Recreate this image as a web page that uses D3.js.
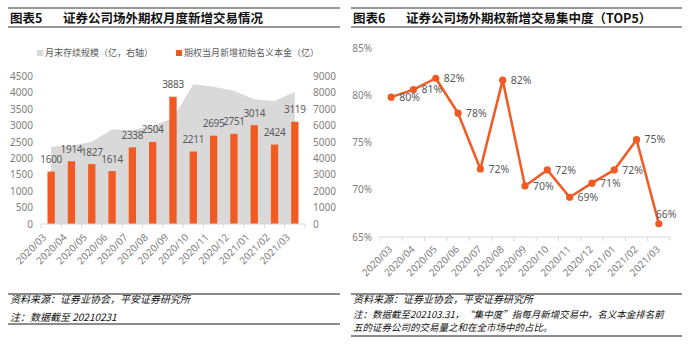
<!DOCTYPE html>
<html>
<head>
<meta charset="utf-8">
<script src="https://cdn.jsdelivr.net/npm/d3@7"></script>
<style>
  body { margin: 0; background: #fff; }
  svg text { font-family: "Noto Sans", "Noto Sans CJK SC", sans-serif; }
</style>
</head>
<body>
<div id="chart"></div>
<script>
const width = 700;
const height = 344;

// 数据
const months = ['2020/03', '2020/04', '2020/05', '2020/06', '2020/07', '2020/08', '2020/09',
  '2020/10', '2020/11', '2020/12', '2021/01', '2021/02', '2021/03'];
const newNotional = [1600, 1914, 1827, 1614, 2338, 2504, 3883, 2211, 2695, 2751, 3014, 2424, 3119];
const outstanding = [4720, 4780, 5020, 5780, 5740, 6000, 6450, 8520, 8380, 8130, 7610, 7500, 8070];
const top5Share = [79.8, 80.6, 81.8, 78.1, 72.2, 81.6, 70.4, 72.1, 69.2, 70.7, 72.1, 75.3, 66.4];
const leftTicks = [0, 500, 1000, 1500, 2000, 2500, 3000, 3500, 4000, 4500];
const rightTicks = [0, 1000, 2000, 3000, 4000, 5000, 6000, 7000, 8000, 9000];
const pctTicks = [65, 70, 75, 80, 85];

const orange = '#f15a22';
const grey = '#d9d9d9';
const tickColor = '#7f7f7f';
const labelColor = '#595959';
const cjk = '"Noto Sans CJK SC", sans-serif';

const svg = d3.select('#chart').append('svg')
  .attr('width', width)
  .attr('height', height);

// 标题和脚注
function header(x0, x1, num, title) {
  svg.append('line').attr('x1', x0).attr('x2', x1).attr('y1', 8).attr('y2', 8)
    .attr('stroke', '#333').attr('stroke-width', 1.2);
  svg.append('line').attr('x1', x0).attr('x2', x1).attr('y1', 27).attr('y2', 27)
    .attr('stroke', '#333').attr('stroke-width', 1.2);
  svg.append('text').attr('x', x0 + 2).attr('y', 22.5).text(num)
    .style('font-family', cjk).style('font-weight', 'bold').style('font-size', '12.5px').attr('fill', '#111');
  svg.append('text').attr('x', x0 + 55).attr('y', 22.5).text(title)
    .style('font-family', cjk).style('font-weight', 'bold').style('font-size', '12.5px').attr('fill', '#111');
}

function footer(x0, x1, lines, bottomY) {
  svg.append('line').attr('x1', x0).attr('x2', x1).attr('y1', 294).attr('y2', 294)
    .attr('stroke', '#666').attr('stroke-width', 1.5);
  svg.selectAll(null).data(lines).enter().append('text')
    .attr('x', x0 + 2)
    .attr('y', d => d.y)
    .text(d => d.t)
    .style('font-family', cjk).style('font-style', 'italic').style('font-size', d => d.s || '10px')
    .attr('fill', '#111');
  svg.append('line').attr('x1', x0).attr('x2', x1).attr('y1', bottomY).attr('y2', bottomY)
    .attr('stroke', '#666').attr('stroke-width', 1.5);
}

header(8, 340, '图表5', '证券公司场外期权月度新增交易情况');
header(351, 682, '图表6', '证券公司场外期权新增交易集中度（TOP5）');
footer(8, 340, [
  { t: '资料来源：证券业协会，平安证券研究所', y: 303 },
  { t: '注：数据截至 20210231', y: 321 }
], 324);
footer(351, 682, [
  { t: '资料来源：证券业协会，平安证券研究所', y: 303 },
  { t: '注：数据截至202103.31，“集中度”指每月新增交易中，名义本金排名前', y: 318, s: '9.5px' },
  { t: '五的证券公司的交易量之和在全市场中的占比。', y: 330.5, s: '9.5px' }
], 336);

// ---------- 图表5 ----------
const x1 = d3.scaleBand().domain(months).range([41, 305]).paddingInner(0.64).paddingOuter(0.32);
const yL = d3.scaleLinear().domain([0, 4500]).range([224, 76.5]);
const yR = d3.scaleLinear().domain([0, 9000]).range([224, 76.5]);
const cx1 = d => x1(d) + x1.bandwidth() / 2;

const g1 = svg.append('g');

g1.append('path')
  .datum(months)
  .attr('fill', grey)
  .attr('d', d3.area()
    .x(d => cx1(d))
    .y0(yR(0))
    .y1((d, i) => yR(outstanding[i])));

g1.selectAll('rect').data(months).enter().append('rect')
  .attr('x', d => x1(d))
  .attr('width', x1.bandwidth())
  .attr('y', (d, i) => yL(newNotional[i]))
  .attr('height', (d, i) => yL(0) - yL(newNotional[i]))
  .attr('fill', orange);

g1.selectAll('text.bar').data(months).enter().append('text')
  .attr('class', 'bar')
  .attr('x', d => cx1(d))
  .attr('y', (d, i) => yL(newNotional[i]) - 8.5)
  .attr('text-anchor', 'middle')
  .style('font-size', '10px')
  .style('letter-spacing', '-0.3px')
  .attr('fill', labelColor)
  .text((d, i) => newNotional[i]);

// x 轴
const step1 = x1.step();
g1.append('line').attr('x1', 41).attr('x2', 305).attr('y1', 224).attr('y2', 224)
  .attr('stroke', grey).attr('stroke-width', 1);
g1.selectAll('line.tick').data(d3.range(months.length + 1)).enter().append('line')
  .attr('class', 'tick')
  .attr('x1', i => 41 + i * step1).attr('x2', i => 41 + i * step1)
  .attr('y1', 224).attr('y2', 228)
  .attr('stroke', grey);
g1.selectAll('text.xl').data(months).enter().append('text')
  .attr('class', 'xl')
  .attr('transform', d => `translate(${cx1(d) - 4},${238}) rotate(-45)`)
  .attr('text-anchor', 'end')
  .style('font-size', '10px')
  .attr('fill', tickColor)
  .text(d => d);

// y 轴
g1.selectAll('text.yl').data(leftTicks).enter().append('text')
  .attr('class', 'yl')
  .attr('x', 33).attr('y', d => yL(d)).attr('dy', '0.35em')
  .attr('text-anchor', 'end')
  .style('font-size', '10px')
  .attr('fill', tickColor)
  .text(d => d);
g1.selectAll('text.yr').data(rightTicks).enter().append('text')
  .attr('class', 'yr')
  .attr('x', 313).attr('y', d => yR(d)).attr('dy', '0.35em')
  .style('font-size', '10px')
  .attr('fill', tickColor)
  .text(d => d);

// 图例
const legend = [
  { name: '月末存续规模（亿，右轴）', color: grey, x: 37 },
  { name: '期权当月新增初始名义本金（亿）', color: orange, x: 176 }
];
const lg = g1.selectAll('g.lg').data(legend).enter().append('g')
  .attr('class', 'lg')
  .attr('transform', d => `translate(${d.x},53)`);
lg.append('rect').attr('x', 0).attr('y', -3).attr('width', 6).attr('height', 6)
  .attr('fill', d => d.color);
lg.append('text').attr('x', 8).attr('dy', '0.35em')
  .style('font-family', cjk).style('font-size', '9px')
  .attr('fill', labelColor)
  .text(d => d.name);

// ---------- 图表6 ----------
const x2 = d3.scaleBand().domain(months).range([380, 670]).paddingInner(0.64).paddingOuter(0.32);
const yP = d3.scaleLinear().domain([65, 85]).range([237, 48]);
const cx2 = d => x2(d) + x2.bandwidth() / 2;

const g2 = svg.append('g');

const step2 = x2.step();
g2.append('line').attr('x1', 380).attr('x2', 670).attr('y1', 237).attr('y2', 237)
  .attr('stroke', grey);
g2.selectAll('line.tick').data(d3.range(months.length + 1)).enter().append('line')
  .attr('class', 'tick')
  .attr('x1', i => 380 + i * step2).attr('x2', i => 380 + i * step2)
  .attr('y1', 237).attr('y2', 241)
  .attr('stroke', grey);
g2.selectAll('text.xl').data(months).enter().append('text')
  .attr('class', 'xl')
  .attr('transform', d => `translate(${cx2(d) + 2},${250}) rotate(-45)`)
  .attr('text-anchor', 'end')
  .style('font-size', '10px')
  .attr('fill', tickColor)
  .text(d => d);
g2.selectAll('text.yl').data(pctTicks).enter().append('text')
  .attr('class', 'yl')
  .attr('x', 372).attr('y', d => yP(d)).attr('dy', '0.35em')
  .attr('text-anchor', 'end')
  .style('font-size', '10px')
  .attr('fill', tickColor)
  .text(d => d + '%');

g2.append('path')
  .datum(months)
  .attr('fill', 'none')
  .attr('stroke', orange)
  .attr('stroke-width', 2.5)
  .attr('stroke-linejoin', 'round')
  .attr('d', d3.line().x(d => cx2(d)).y((d, i) => yP(top5Share[i])));

g2.selectAll('circle').data(months).enter().append('circle')
  .attr('cx', d => cx2(d))
  .attr('cy', (d, i) => yP(top5Share[i]))
  .attr('r', 3.6)
  .attr('fill', orange);

const last = months.length - 1;
g2.selectAll('text.pl').data(months).enter().append('text')
  .attr('class', 'pl')
  .attr('x', (d, i) => i === last ? cx2(d) - 3 : cx2(d) + 8)
  .attr('y', (d, i) => yP(top5Share[i]) - (i === last ? 9 : 0))
  .attr('dy', '0.35em')
  .style('font-size', '10.5px')
  .attr('fill', labelColor)
  .text((d, i) => Math.round(top5Share[i]) + '%');
</script>
</body>
</html>
